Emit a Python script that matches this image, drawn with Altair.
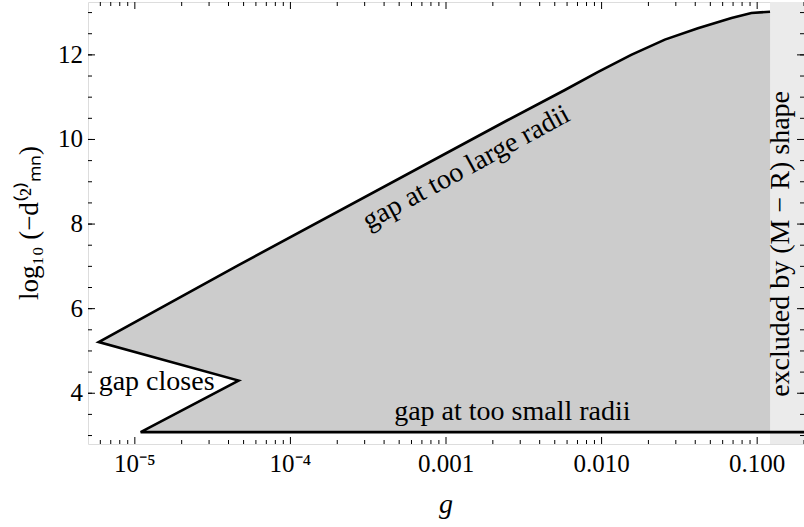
import altair as alt
import pandas as pd

# ---------------- data ----------------
# lower-left boundary of the allowed (gray) region
lower_g = [1.09e-5, 4.64e-5]
lower_logd = [3.08, 4.30]
# upper boundary (starts at the left tip)
upper_g = [5.86e-6, 4.64e-5, 2.50e-3, 5.81e-3, 9.51e-3, 1.55e-2, 2.55e-2,
           4.16e-2, 6.84e-2, 9.18e-2, 0.121]
upper_logd = [5.21, 7.03, 10.46, 11.17, 11.60, 12.00, 12.36,
              12.63, 12.87, 12.99, 13.02]
bottom_logd = 3.08
g_excluded_from = 0.121

# axis ranges and ticks
g_domain = [5e-6, 0.2]
logd_domain = [2.8, 13.25]
x_tick_values = [1e-5, 1e-4, 1e-3, 1e-2, 1e-1]
x_tick_labels = ["10\u207b\u2075", "10\u207b\u2074", "0.001", "0.010", "0.100"]
x_minor_values = [m * 10.0 ** e for e in range(-6, 0) for m in range(2, 10)
                  if g_domain[0] <= m * 10.0 ** e <= g_domain[1]]
y_tick_values = [4, 6, 8, 10, 12]
y_tick_labels = ["4", "6", "8", "10", "12"]
y_minor_values = [3 + 0.5 * i for i in range(21)]
x_title = "g"
y_title = "log\u2081\u2080 (\u2212d\u207d\u00b2\u207e\u2098\u2099)"

# annotation texts
label_text = ["gap closes", "gap at too small radii", "gap at too large radii",
              "excluded by (M \u2212 R) shape"]
label_g = [1.38e-5, 2.67e-3, 1.35e-3, 0.1426]
label_logd = [4.26, 3.55, 9.33, 7.53]
label_angle = [0, 0, 331.5, 270]

FONT = "Liberation Serif"

# ---------------- tables ----------------
area_df = pd.DataFrame({
    "g": lower_g + upper_g,
    "logd": lower_logd + upper_logd,
    "g_end": [g_excluded_from] * (len(lower_g) + len(upper_g)),
})
line_df = pd.DataFrame({
    "g": [g_domain[1]] + lower_g + upper_g,
    "logd": [bottom_logd] + lower_logd + upper_logd,
})
line_df["order"] = range(len(line_df))
excl_df = pd.DataFrame({"g": [g_excluded_from], "g2": [g_domain[1]],
                        "y": [logd_domain[0]], "y2": [logd_domain[1]]})
label_df = pd.DataFrame({"label": label_text, "g": label_g, "logd": label_logd,
                         "angle": label_angle})
xmaj_df = pd.DataFrame({"g": x_tick_values, "label": x_tick_labels})
xmin_df = pd.DataFrame({"g": x_minor_values})
ymaj_df = pd.DataFrame({"logd": y_tick_values, "label": y_tick_labels})
ymin_df = pd.DataFrame({"logd": y_minor_values})
xtitle_df = pd.DataFrame({"label": [x_title]})
ytitle_df = pd.DataFrame({"label": [y_title]})

xs = alt.Scale(type="log", domain=g_domain, nice=False)
ys = alt.Scale(domain=logd_domain, nice=False, zero=False)

# ---------------- marks ----------------
excluded = alt.Chart(excl_df).mark_rect(color="#ebebeb").encode(
    x=alt.X("g:Q", scale=xs, axis=None), x2="g2:Q",
    y=alt.Y("y:Q", scale=ys, axis=None), y2="y2:Q")

fill = alt.Chart(area_df).mark_area(orient="horizontal", color="#cccccc", opacity=1).encode(
    y=alt.Y("logd:Q", scale=ys, axis=None),
    x=alt.X("g:Q", scale=xs, axis=None),
    x2="g_end:Q")

outline = alt.Chart(line_df).mark_line(color="black", strokeWidth=2.6,
                                       strokeJoin="miter").encode(
    x=alt.X("g:Q", scale=xs, axis=None),
    y=alt.Y("logd:Q", scale=ys, axis=None),
    order="order:Q")

labels = alt.Chart(label_df).mark_text(font=FONT, fontSize=28, color="black",
                                       align="center", baseline="middle").encode(
    x=alt.X("g:Q", scale=xs, axis=None),
    y=alt.Y("logd:Q", scale=ys, axis=None),
    text="label:N",
    angle=alt.Angle("angle:Q", scale=None))

# ---------------- inward ticks, drawn through the scales ----------------
MAJ, MIN = 7, 4


def xticks(df, ypos, length, sign):
    return alt.Chart(df).mark_tick(orient="vertical", size=length, thickness=1,
                                   color="black", opacity=1,
                                   yOffset=sign * length / 2).encode(
        x=alt.X("g:Q", scale=xs, axis=None),
        y=alt.Y(datum=ypos, scale=ys, axis=None))


def yticks(df, xpos, length, sign):
    return alt.Chart(df).mark_tick(orient="horizontal", size=length, thickness=1,
                                   color="black", opacity=1,
                                   xOffset=sign * length / 2).encode(
        y=alt.Y("logd:Q", scale=ys, axis=None),
        x=alt.X(datum=xpos, scale=xs, axis=None))


tick_layers = [
    xticks(xmaj_df, logd_domain[0], MAJ, -1), xticks(xmin_df, logd_domain[0], MIN, -1),
    xticks(xmaj_df, logd_domain[1], MAJ, 1), xticks(xmin_df, logd_domain[1], MIN, 1),
    yticks(ymaj_df, g_domain[0], MAJ, 1), yticks(ymin_df, g_domain[0], MIN, 1),
    yticks(ymaj_df, g_domain[1], MAJ, -1), yticks(ymin_df, g_domain[1], MIN, -1),
]

# ---------------- tick labels and axis titles as text ----------------
x_labels = alt.Chart(xmaj_df).mark_text(font=FONT, fontSize=25, color="black",
                                        align="center", baseline="alphabetic", dy=28).encode(
    x=alt.X("g:Q", scale=xs, axis=None),
    y=alt.Y(datum=logd_domain[0], scale=ys, axis=None),
    text="label:N")

y_labels = alt.Chart(ymaj_df).mark_text(font=FONT, fontSize=25, color="black",
                                        align="right", baseline="middle", dx=-5).encode(
    y=alt.Y("logd:Q", scale=ys, axis=None),
    x=alt.X(datum=g_domain[0], scale=xs, axis=None),
    text="label:N")

x_title_mark = alt.Chart(xtitle_df).mark_text(font=FONT, fontSize=28, fontStyle="italic",
                                              color="black", align="center",
                                              baseline="alphabetic", dy=69).encode(
    x=alt.X(datum=(g_domain[0] * g_domain[1]) ** 0.5, scale=xs, axis=None),
    y=alt.Y(datum=logd_domain[0], scale=ys, axis=None),
    text="label:N")

y_title_mark = alt.Chart(ytitle_df).mark_text(font=FONT, fontSize=27, color="black",
                                              align="center", baseline="middle",
                                              angle=270).encode(
    x=alt.value(-58),
    y=alt.Y(datum=sum(logd_domain) / 2, scale=ys, axis=None),
    text="label:N")

chart = alt.layer(
    excluded, fill, outline, labels, *tick_layers,
    x_labels, y_labels, x_title_mark, y_title_mark,
).properties(
    width=716, height=442,
    autosize=alt.AutoSizeParams(type="none"),
    padding={"left": 88, "top": 2, "right": 0, "bottom": 83},
).configure_view(stroke="black", strokeWidth=1.3).configure_text(font=FONT).configure(font=FONT)

chart.save("out.html", embed_options={"renderer": "svg", "actions": False})
